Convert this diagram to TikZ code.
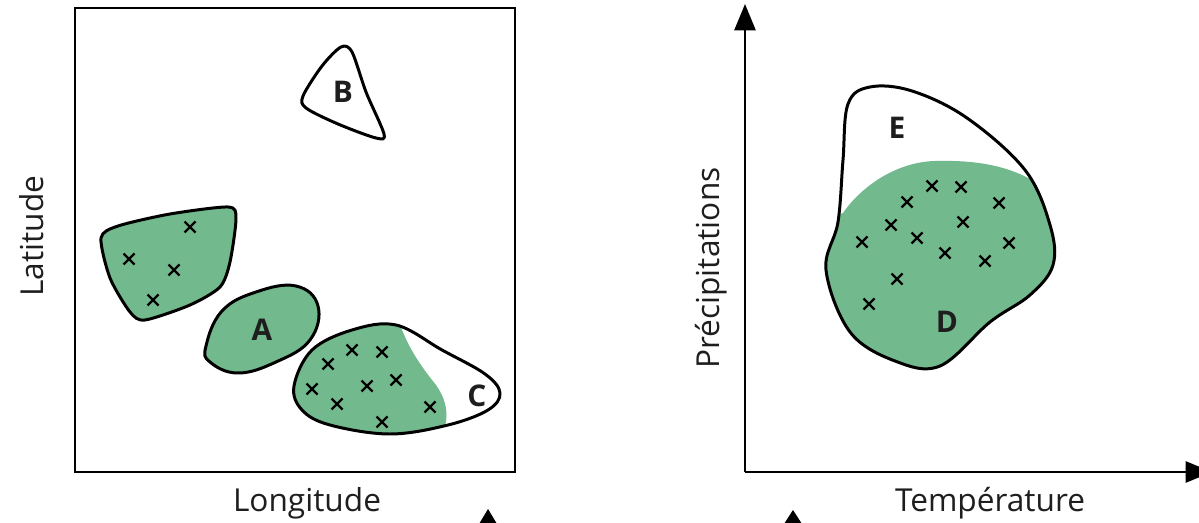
\documentclass[tikz,border=0pt]{standalone}
\usepackage{fontspec}
\setmainfont{Open Sans}
\usetikzlibrary{arrows.meta}
\definecolor{leafgreen}{RGB}{114,185,141}
\definecolor{inkgray}{RGB}{30,30,30}
\tikzset{
	x=0.02cm, y=-0.02cm,
	zone/.style= {
		draw=black,
		line width=1.7pt,
		line join=round
	},
	letter/.style= {
		font=\fontsize{17}{20}\selectfont\bfseries,
		inkgray
	},
	axislabel/.style= {
		font=\fontsize{18}{21}\selectfont,
		inkgray
	},
	sample/.style= {
		line width=1.35pt,
		black
	},
	axis/.style= {
		line width=1.4pt,
		-{Triangle[length=15pt, width=12pt]}
	},
}
\newcommand{\outlineB}{plot[smooth cycle, tension=0.5] coordinates {(303,96) (322,66) (341,47) (352,52) (366,92) (384,134) (376,138) (338,124) (306,108)}}
\newcommand{\outlineC}{plot[smooth cycle, tension=0.6] coordinates {(294,386) (312,350) (352,330) (396,325) (442,350) (485,374) (500,393) (488,410) (448,425) (390,434) (330,425) (302,410)}}
\newcommand{\outlineDE}{plot[smooth cycle, tension=0.6] coordinates {(848,104) (870,87) (912,91) (967,118) (1025,170) (1050,225) (1053,265) (1030,295) (990,322) (940,366) (895,361) (850,332) (826,270) (838,222) (843,160)}}

\begin{document}
\begin{tikzpicture}
		\useasboundingbox (0,0) rectangle (1199,523);

		% left panel: geographic space
		\draw[line width=1.4pt] (75,8) rectangle (515,472);
		\node (lat) [axislabel, rotate=90] at (32,236) {Latitude};
		\node (lon) [axislabel] at (307,503) {Longitude};

		\draw[zone, fill=leafgreen] plot[smooth cycle, tension=0.45] coordinates {(101,238) (118,226) (170,214) (228,207) (236,218) (230,262) (220,287) (190,305) (145,320) (130,312) (110,278)};
		\draw[zone, fill=leafgreen] plot[smooth cycle, tension=0.7] coordinates {(206,346) (222,311) (256,292) (296,286) (318,306) (310,340) (276,362) (238,373) (210,362)};
		\draw[zone] \outlineB;
		\begin{scope}
			\clip \outlineC;
			\fill[leafgreen] (280,310) -- (398,318) .. controls (406,345) and (420,365) .. (436,385) .. controls (450,405) and (450,425) .. (436,445) -- (280,445) -- cycle;
		\end{scope}
		\draw[zone] \outlineC;

		\node (A) [letter] at (262,330) {A};
		\node (B) [letter] at (343,92) {B};
		\node (C) [letter] at (477,396) {C};

		% right panel: climatic space
		\coordinate (origin) at (745,472);
		\coordinate (ytip) at (745,4);
		\coordinate (xtip) at (1212,472);
		\draw[axis] (origin) to (ytip);
		\draw[axis] (origin) to (xtip);
		\node (prec) [axislabel, rotate=90] at (711,268) {Précipitations};
		\node (temp) [axislabel] at (990,503) {Température};

		\begin{scope}
			\clip \outlineDE;
			\fill[leafgreen] (800,400) -- (800,230) -- (843,213) .. controls (860,188) and (895,162) .. (935,161) .. controls (975,160) and (1010,165) .. (1040,185) -- (1080,185) -- (1080,400) -- cycle;
		\end{scope}
		\draw[zone] \outlineDE;

		\node (D) [letter] at (947,322) {D};
		\node (E) [letter] at (897,128) {E};

		% samples
		\foreach \px/\py in {190/227, 129/259, 174/270, 153/300,
			352/350, 382/352, 328/364, 312/389, 367/386, 396/380, 337/404, 382/422, 430/407,
			932/186, 961/187, 907/202, 999/203, 891/225, 963/222, 862/242, 917/238, 1009/243, 945/253, 985/261, 897/279, 869/304}
			\draw[sample] (\px-5.5,\py-5.5) -- (\px+5.5,\py+5.5) (\px-5.5,\py+5.5) -- (\px+5.5,\py-5.5);

		% arrow heads entering from below
		\fill[black] (488,509) -- (479,524) -- (497,524) -- cycle;
		\fill[black] (793,510) -- (784,524) -- (802,524) -- cycle;
	\end{tikzpicture}
\end{document}
